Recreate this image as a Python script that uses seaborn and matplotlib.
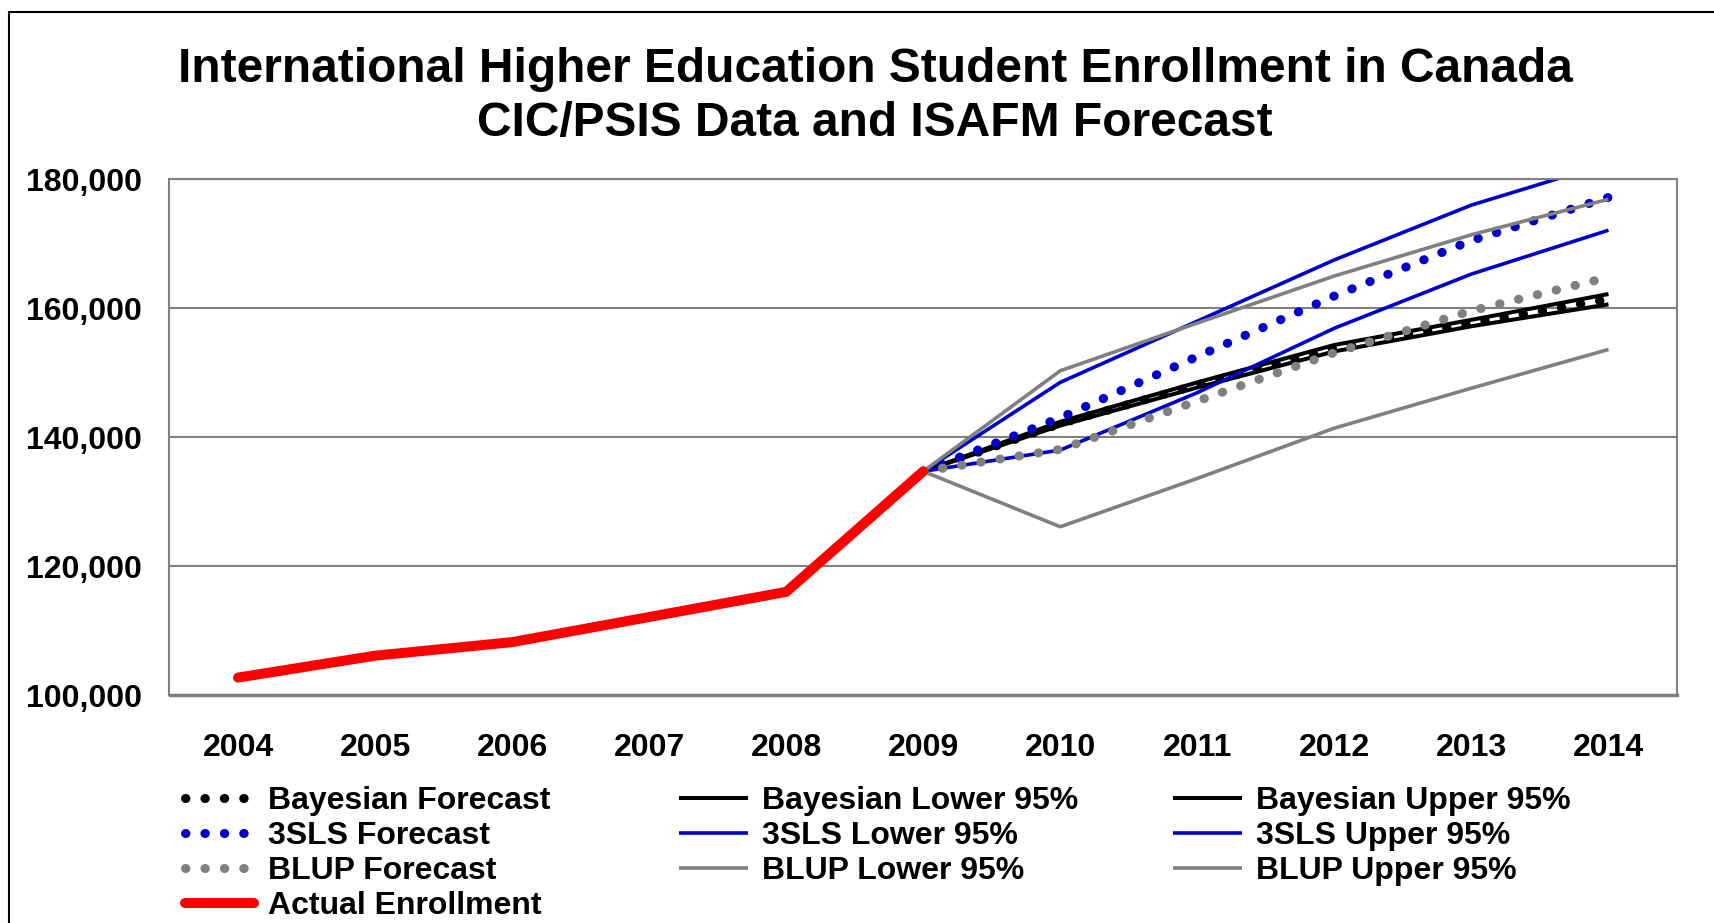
import matplotlib
matplotlib.use("Agg")
import matplotlib.pyplot as plt
import matplotlib.patches as mpatches
from matplotlib.ticker import FixedLocator, NullFormatter, StrMethodFormatter
import seaborn as sns

# ---- data ----
years = [2004, 2005, 2006, 2007, 2008, 2009, 2010, 2011, 2012, 2013, 2014]
actual_years = [2004, 2005, 2006, 2007, 2008, 2009]
actual = [102700, 106100, 108200, 112100, 116000, 134700]

fc_years = [2009, 2010, 2011, 2012, 2013, 2014]
bayes_fc = [134700, 142100, 148100, 153800, 157700, 161400]
bayes_lo = [134700, 141800, 147700, 153300, 157200, 160600]
bayes_hi = [134700, 142400, 148500, 154300, 158200, 162200]
sls_fc = [134700, 143000, 152500, 161900, 170500, 177200]
sls_lo = [134700, 138000, 146900, 156900, 165300, 172100]
sls_hi = [134700, 148500, 158000, 167500, 176000, 182500]
blup_fc = [134700, 138100, 145600, 153100, 159600, 164800]
blup_lo = [134700, 126100, 133600, 141400, 147600, 153600]
blup_hi = [134700, 150300, 157700, 165000, 171400, 176900]

y_ticks = [100000, 120000, 140000, 160000, 180000]

BLACK, BLUE, GRAY, RED = "#000000", "#0000CC", "#808080", "#FF0000"
DOTS = (0, (0.05, 2.1))

sns.set_style("white")
plt.rcParams["font.family"] = ["Liberation Sans", "DejaVu Sans"]
plt.rcParams["font.weight"] = "bold"
plt.rcParams["text.color"] = "black"
plt.rcParams["xtick.labelcolor"] = "black"
plt.rcParams["ytick.labelcolor"] = "black"

W, H = 1715, 923
fig = plt.figure(figsize=(W / 100, H / 100), dpi=100)
ax = fig.add_axes([169.5 / W, 1 - 695 / H, (1677 - 169.5) / W, (695 - 179.3) / H])

series = [
    ("Bayesian Forecast", bayes_fc, BLACK, 6.5, DOTS),
    ("Bayesian Lower 95%", bayes_lo, BLACK, 2.9, "-"),
    ("Bayesian Upper 95%", bayes_hi, BLACK, 2.9, "-"),
    ("3SLS Forecast", sls_fc, BLUE, 6.5, DOTS),
    ("3SLS Lower 95%", sls_lo, BLUE, 2.6, "-"),
    ("3SLS Upper 95%", sls_hi, BLUE, 2.6, "-"),
    ("BLUP Forecast", blup_fc, GRAY, 6.5, DOTS),
    ("BLUP Lower 95%", blup_lo, GRAY, 2.6, "-"),
    ("BLUP Upper 95%", blup_hi, GRAY, 2.6, "-"),
]

handles = {}
for name, vals, color, lw, ls in series:
    sns.lineplot(x=fc_years, y=vals, ax=ax, color=color, linewidth=lw,
                 linestyle=ls, dash_capstyle="round", solid_capstyle="butt")
    handles[name] = ax.lines[-1]

sns.lineplot(x=actual_years, y=actual, ax=ax, color=RED, linewidth=7.2,
             solid_capstyle="round", solid_joinstyle="miter")
handles["Actual Enrollment"] = ax.lines[-1]

# axes styling
ax.set_xlim(years[0] - 0.5, years[-1] + 0.5)
ax.set_ylim(y_ticks[0], y_ticks[-1])
ax.set_xlabel("")
ax.set_ylabel("")
ax.xaxis.set_major_locator(FixedLocator([y - 0.5 for y in years] + [years[-1] + 0.5]))
ax.xaxis.set_major_formatter(NullFormatter())
ax.set_xticks(years, [str(y) for y in years], minor=True)
ax.tick_params(axis="x", which="major", length=9, width=1.5, color=GRAY, direction="out")
ax.tick_params(axis="x", which="minor", length=0, pad=27, labelsize=23)
ax.set_yticks(y_ticks)
ax.yaxis.set_major_formatter(StrMethodFormatter("{x:,.0f}"))
ax.tick_params(axis="y", length=0, pad=20, labelsize=23)
for lab in ax.get_xticklabels(minor=True) + ax.get_yticklabels():
    lab.set_fontweight("bold")
    lab.set_color("black")
ax.grid(axis="y", color=GRAY, linewidth=1.5)
ax.set_axisbelow(True)
for side, sp in ax.spines.items():
    sp.set_visible(True)
    sp.set_color(GRAY)
    sp.set_linewidth(1.5)
ax.spines["bottom"].set_linewidth(2.5)

# title
fig.text(875 / W, 1 - 82 / H, "International Higher Education Student Enrollment in Canada",
         ha="center", va="baseline", fontsize=34.5, fontweight="bold", color="black")
fig.text(875 / W, 1 - 136 / H, "CIC/PSIS Data and ISAFM Forecast",
         ha="center", va="baseline", fontsize=34.5, fontweight="bold", color="black")

# outer chart frame (left and top edges visible)
fig.add_artist(mpatches.Rectangle((9 / W, -0.5), 1.2, 1.5 - 12 / H, transform=fig.transFigure,
                                  fill=False, edgecolor="black", linewidth=1.5))

# legend: three columns placed like the original
columns = [
    (185, ["Bayesian Forecast", "3SLS Forecast", "BLUP Forecast", "Actual Enrollment"]),
    (679, ["Bayesian Lower 95%", "3SLS Lower 95%", "BLUP Lower 95%"]),
    (1173, ["Bayesian Upper 95%", "3SLS Upper 95%", "BLUP Upper 95%"]),
]
for x0, names in columns:
    leg = fig.legend([handles[n] for n in names], names, loc="upper left",
                     bbox_to_anchor=(x0 / W, 1 - 786 / H), frameon=False, borderpad=0,
                     borderaxespad=0, handlelength=2.15, handletextpad=0.45,
                     labelspacing=0.16, prop={"size": 23, "weight": "bold"})
    for t in leg.get_texts():
        t.set_color("black")

fig.savefig("out.png", dpi=100)
